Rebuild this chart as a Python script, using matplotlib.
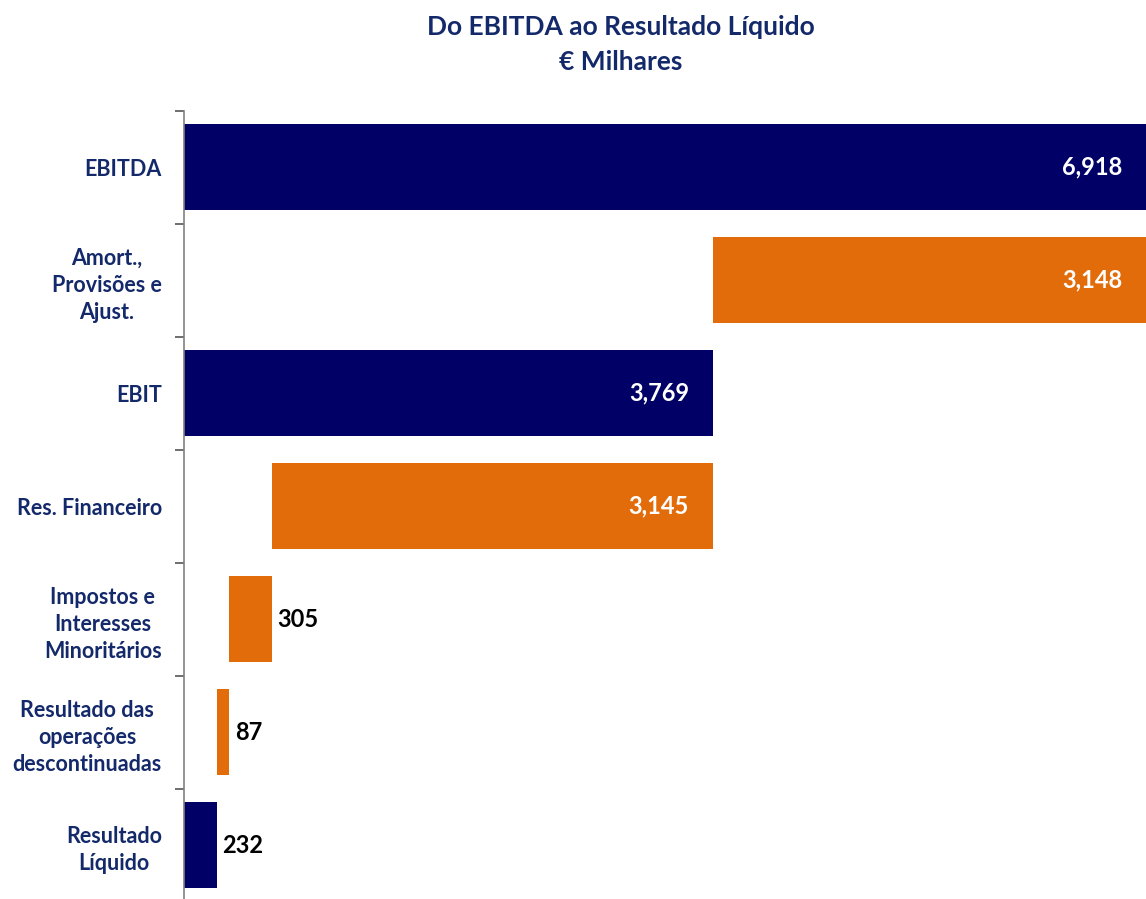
import numpy as np
import matplotlib.pyplot as plt

# data
categories = [
    "EBITDA",
    "Amort.,\nProvisões e\nAjust.",
    "EBIT",
    "Res. Financeiro",
    "Impostos e\nInteresses\nMinoritários",
    "Resultado das\noperações\ndescontinuadas",
    "Resultado\nLíquido",
]
values = [6918, 3148, 3769, 3145, 305, 87, 232]
is_total = [True, False, True, False, False, False, True]
value_labels = ["6,918", "3,148", "3,769", "3,145", "305", "87", "232"]

navy = "#000066"
orange = "#E36C0A"
text_col = "#14296A"

# waterfall lefts
lefts = []
running = 0
for v, tot in zip(values, is_total):
    if tot:
        lefts.append(0)
        running = v
    else:
        running = running - v
        lefts.append(running)
lefts = np.array(lefts)
values = np.array(values)
colors = [navy if t else orange for t in is_total]

plt.rcParams["font.family"] = ["Lato", "DejaVu Sans"]

W, H = 1146, 899
fig = plt.figure(figsize=(W / 100, H / 100), dpi=100)
ax = fig.add_axes([184 / W, 1 - 901.7 / H, 1 - 184 / W, (901.7 - 110.7) / H])

y = np.arange(len(categories))
ax.barh(y, values, left=lefts, height=0.76, color=colors, edgecolor="none")

xmax = 6854
ax.set_xlim(0, xmax)
ax.set_ylim(len(categories) - 0.5, -0.5)

# value labels
px = xmax / (W - 184)
for i in range(len(values)):
    end = lefts[i] + values[i]
    if values[i] > 1000:
        ax.text(min(end, xmax) - 24 * px, y[i], value_labels[i], ha="right",
                va="center", color="white", fontsize=17, fontweight="bold")
    else:
        ax.text(end + 6 * px, y[i], value_labels[i], ha="left", va="center",
                color="black", fontsize=17, fontweight="bold")

# axis styling
for s in ["top", "right", "bottom"]:
    ax.spines[s].set_visible(False)
ax.spines["left"].set_color("#808080")
ax.spines["left"].set_linewidth(1.2)
ax.set_xticks([])
ax.set_yticks(y)
ax.set_yticklabels(categories, fontsize=15.5, fontweight="bold", color=text_col,
                   linespacing=1.35)
for lab in ax.get_yticklabels():
    lab.set_multialignment("center")
ax.tick_params(axis="y", which="major", length=0, pad=16)
ax.set_yticks(np.arange(-0.5, len(categories), 1), minor=True)
ax.tick_params(axis="y", which="minor", length=6.5, width=1.2, color="#555555")

fig.text(621 / W, 1 - 27 / H, "Do EBITDA ao Resultado Líquido", ha="center",
         va="center", fontsize=19, fontweight="bold", color=text_col)
fig.text(621 / W, 1 - 62 / H, "€ Milhares", ha="center", va="center",
         fontsize=19, fontweight="bold", color=text_col)

fig.savefig("out.png", dpi=100)
